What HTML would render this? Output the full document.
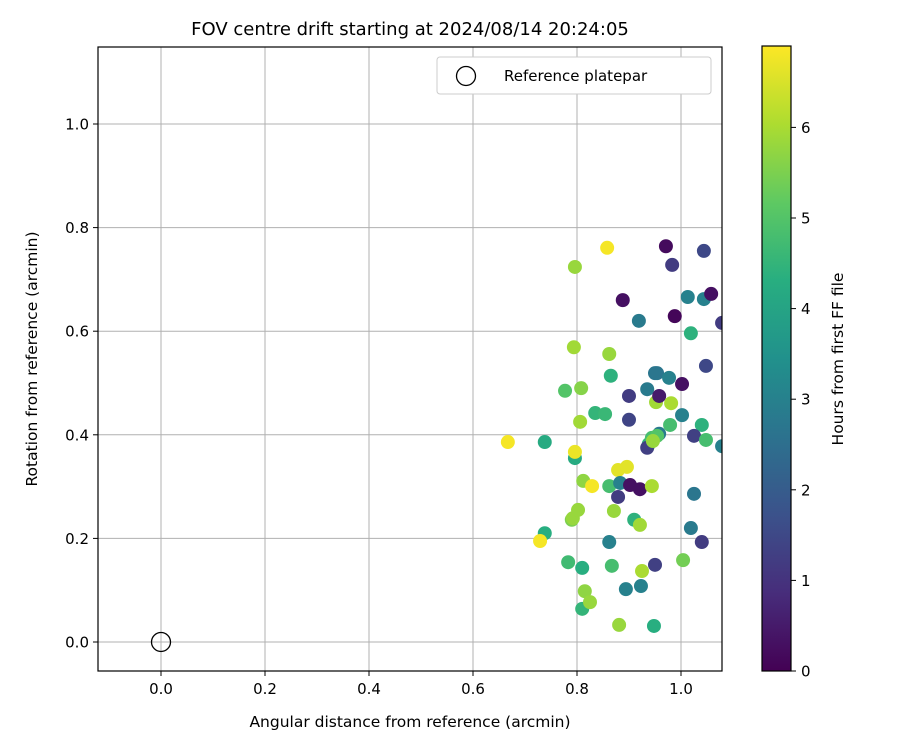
<!DOCTYPE html>
<html><head><meta charset="utf-8"><style>
body{margin:0;background:#fff}
svg{font-family:"DejaVu Sans","Liberation Sans",sans-serif}
</style></head><body>
<svg id="chart" width="900" height="750" viewBox="0 0 900 750" xmlns="http://www.w3.org/2000/svg">
<rect width="900" height="750" fill="#fff"/>
<text x="410" y="35" font-size="18" text-anchor="middle">FOV centre drift starting at 2024/08/14 20:24:05</text>
<g id="grid"></g>
<g id="points"></g>
<rect x="98" y="47" width="624" height="624" fill="none" stroke="#000" stroke-width="1.2"/>
<g id="ticks"></g>
<text x="410" y="727" font-size="15.5" text-anchor="middle">Angular distance from reference (arcmin)</text>
<text transform="translate(37,359) rotate(-90)" font-size="15.5" text-anchor="middle">Rotation from reference (arcmin)</text>
<g>
<rect x="437" y="57" width="274" height="37" rx="3" fill="#fff" stroke="#ccc"/>
<circle cx="466" cy="76" r="9.5" fill="none" stroke="#000" stroke-width="1.3"/>
<text x="504" y="81" font-size="15">Reference platepar</text>
</g>
<defs><linearGradient id="vir" x1="0" y1="1" x2="0" y2="0">
<stop offset="0" stop-color="#440154"/><stop offset="0.125" stop-color="#472d7b"/><stop offset="0.25" stop-color="#3b528b"/><stop offset="0.375" stop-color="#2c728e"/><stop offset="0.5" stop-color="#21918c"/><stop offset="0.625" stop-color="#28ae80"/><stop offset="0.75" stop-color="#5ec962"/><stop offset="0.875" stop-color="#addc30"/><stop offset="1" stop-color="#fde725"/>
</linearGradient></defs>
<rect x="762" y="46" width="29" height="625" fill="url(#vir)" stroke="#000" stroke-width="1.2"/>
<g id="cbticks"></g>
<text transform="translate(843,359) rotate(-90)" font-size="15.5" text-anchor="middle">Hours from first FF file</text>
</svg>
<script>
const xTicks=[0.0,0.2,0.4,0.6,0.8,1.0];
const yTicks=[0.0,0.2,0.4,0.6,0.8,1.0];
const cbTicks=[0,1,2,3,4,5,6];
const xs=[0.667,0.738,0.729,0.738,0.796,0.794,0.858,0.777,0.808,0.806,0.835,0.854,0.862,0.865,0.796,0.796,0.812,0.829,0.790,0.792,0.802,0.783,0.810,0.810,0.815,0.825,0.862,0.862,0.867,0.871,0.879,0.896,0.883,0.879,0.902,0.921,0.944,0.910,0.921,0.894,0.923,0.925,0.881,0.948,0.950,1.004,1.025,1.019,1.040,0.938,0.935,0.944,0.958,0.979,0.952,0.919,0.888,0.971,1.044,0.983,1.013,1.044,1.058,0.988,1.079,1.019,1.048,0.950,0.954,0.935,0.977,1.002,0.958,0.900,0.981,1.002,0.900,1.040,1.025,1.048,1.079,0.954,0.946];
const ys=[0.386,0.210,0.195,0.386,0.724,0.569,0.761,0.485,0.490,0.425,0.442,0.440,0.556,0.514,0.355,0.367,0.311,0.301,0.236,0.239,0.255,0.154,0.143,0.064,0.098,0.077,0.301,0.193,0.147,0.253,0.332,0.338,0.307,0.280,0.303,0.295,0.301,0.236,0.226,0.102,0.108,0.137,0.033,0.031,0.149,0.158,0.286,0.220,0.193,0.382,0.375,0.394,0.402,0.419,0.463,0.620,0.660,0.764,0.755,0.728,0.666,0.662,0.672,0.629,0.616,0.596,0.533,0.519,0.519,0.488,0.510,0.498,0.475,0.475,0.461,0.438,0.429,0.419,0.398,0.390,0.378,0.398,0.388];
const hours=[6.8,4.3,6.8,4.2,5.8,5.9,6.8,5.0,5.6,5.9,4.5,4.6,5.8,4.4,4.2,6.7,5.7,6.8,5.5,5.8,5.8,4.7,4.3,4.5,5.7,5.8,4.8,3.0,4.8,5.8,6.6,6.6,3.0,1.2,0.3,0.3,6.0,4.4,5.9,3.0,3.0,6.0,5.8,4.3,1.3,5.4,2.7,2.8,1.2,4.5,1.3,4.8,2.8,4.8,5.9,2.8,0.3,0.2,1.5,1.2,3.0,3.0,0.3,0.1,1.2,4.4,1.5,2.7,2.7,2.8,3.0,0.3,0.5,1.2,6.0,3.0,1.4,4.4,1.3,4.8,3.0,5.0,5.8];
const X=v=>161+v*520, Y=v=>642-v*518, CB=h=>671-h*90.6;
const HMAX=6.89;
const vir=[[68,1,84],[71,45,123],[59,82,139],[44,114,142],[33,145,140],[40,174,128],[94,201,98],[173,220,48],[253,231,37]];
function col(h){let t=Math.max(0,Math.min(1,h/HMAX))*8;let i=Math.min(7,Math.floor(t)),f=t-i;const a=vir[i],b=vir[i+1];return `rgb(${a.map((c,k)=>Math.round(c+(b[k]-c)*f)).join(',')})`;}
const NS="http://www.w3.org/2000/svg";
function mk(tag,attrs,parent){const e=document.createElementNS(NS,tag);for(const k in attrs)e.setAttribute(k,attrs[k]);parent.appendChild(e);return e;}
const grid=document.getElementById('grid'),ticks=document.getElementById('ticks'),pts=document.getElementById('points'),cbt=document.getElementById('cbticks');
xTicks.forEach(v=>{
 const g=mk('line',{x1:X(v),x2:X(v),y1:47,y2:671,stroke:'#b0b0b0','stroke-width':1},grid);
 
 
 mk('line',{x1:X(v),x2:X(v),y1:671,y2:676,stroke:'#000'},ticks);
 const t=mk('text',{x:X(v),y:694,'font-size':15,'text-anchor':'middle'},ticks);t.textContent=v.toFixed(1);
 
 
});
yTicks.forEach(v=>{
 const g=mk('line',{x1:98,x2:722,y1:Y(v),y2:Y(v),stroke:'#b0b0b0','stroke-width':1},grid);
 
 
 mk('line',{x1:93,x2:98,y1:Y(v),y2:Y(v),stroke:'#000'},ticks);
 const t=mk('text',{x:89,y:Y(v)+5.5,'font-size':15,'text-anchor':'end'},ticks);t.textContent=v.toFixed(1);
 
 
});
const ref=mk('circle',{cx:X(0),cy:Y(0),r:9.5,fill:'none',stroke:'#000','stroke-width':1.3},pts);


xs.forEach((x,i)=>{
 if(X(x)>730)return;
 const c=mk('circle',{cx:X(x),cy:Y(ys[i]),r:7,fill:col(hours[i])},pts);
 
 
});
const clip=mk('clipPath',{id:'pc'},document.querySelector('defs'));mk('rect',{x:98,y:47,width:624,height:624},clip);
pts.setAttribute('clip-path','url(#pc)');
cbTicks.forEach(h=>{
 mk('line',{x1:791,x2:796,y1:CB(h),y2:CB(h),stroke:'#000'},cbt);
 const t=mk('text',{x:801,y:CB(h)+5.5,'font-size':15},cbt);t.textContent=h;
 
 
});
</script>
</body></html>
